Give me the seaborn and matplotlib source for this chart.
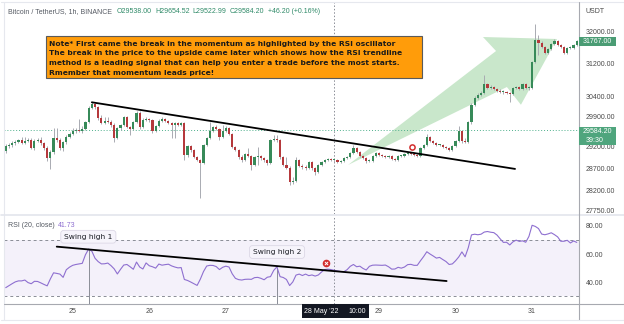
import numpy as np
import pandas as pd
import matplotlib
matplotlib.use("Agg")
import matplotlib.pyplot as plt
import matplotlib.ticker as mticker
import matplotlib.transforms as mtransforms
from matplotlib.patches import Polygon, Rectangle
from matplotlib.lines import Line2D
import seaborn as sns

# ------------------------------------------------------------------ data
start_time = "2022-05-24 03:00"
first_open = 29090
close = [29210, 29230, 29280, 29300, 29350, 29280, 29330, 29350, 29160, 29330,
         29350, 29280, 29160, 28930, 29070, 29400, 29350, 29160, 29300, 29420,
         29490, 29560, 29590, 29560, 29610, 29780, 30110, 30210, 30140, 29870,
         29750, 29800, 29780, 29710, 29400, 29630, 29710, 29900, 29660, 29610,
         29780, 29990, 29660, 29830, 29850, 29830, 29560, 29680, 29800, 29850,
         29800, 29750, 29710, 29750, 29710, 29750, 29000, 29210, 29120, 28950,
         28890, 28820, 29230, 29400, 29560, 29660, 29610, 29420, 29560, 29630,
         29490, 29190, 29120, 28950, 28890, 29020, 28980, 28770, 28950, 28980,
         28930, 28890, 28820, 29350, 29380, 29350, 28950, 28770, 28700, 28380,
         28400, 28890, 28750, 28720, 28700, 28840, 28700, 28610, 28770, 28840,
         28890, 28910, 28890, 28890, 28840, 28860, 28930, 28950, 29050, 29160,
         29070, 28980, 28930, 28860, 28860, 28980, 29050, 29000, 28980, 28950,
         28980, 28910, 28890, 28980, 28980, 29020, 29050, 29020, 29000, 28980,
         29160, 29230, 29420, 29330, 29280, 29230, 29230, 29190, 29160, 29120,
         29210, 29330, 29560, 29330, 29300, 29780, 30190, 30350, 30430, 30480,
         30700, 30600, 30620, 30570, 30520, 30500, 30500, 30480, 30450, 30600,
         30620, 30570, 30700, 30600, 30600, 31240, 31800, 31720, 31620, 31470,
         31570, 31690, 31770, 31670, 31620, 31470, 31590, 31590, 31670, 31767]
high = [29260, 29280, 29330, 29350, 29380, 29420, 29420, 29400, 29400, 29380,
        29400, 29420, 29300, 29210, 29120, 29630, 29630, 29400, 29330, 29470,
        29540, 29630, 29630, 29850, 29680, 29800, 30160, 30260, 30230, 30160,
        29940, 29900, 29900, 29830, 29750, 29660, 29730, 29920, 29920, 29680,
        29800, 30040, 30040, 29870, 29900, 29870, 29850, 29710, 29850, 29900,
        29870, 29830, 29780, 29780, 29780, 29780, 29780, 29230, 29230, 29140,
        28980, 28910, 29260, 29420, 29780, 29680, 29710, 29630, 29710, 29680,
        29660, 29520, 29210, 29140, 29000, 29050, 29160, 29000, 28980, 29190,
        29000, 28950, 28910, 29380, 29470, 29470, 29380, 28980, 28950, 28750,
        28500, 28950, 28910, 28790, 28770, 28860, 28860, 28720, 28790, 28860,
        28910, 28930, 28930, 28930, 28910, 28890, 28950, 28980, 29070, 29230,
        29190, 29090, 29000, 28950, 28910, 29000, 29070, 29070, 29020, 29000,
        29000, 29000, 28930, 29000, 29000, 29050, 29070, 29070, 29050, 29020,
        29190, 29260, 29490, 29450, 29350, 29300, 29260, 29260, 29210, 29190,
        29230, 29350, 29680, 29590, 29400, 29800, 30230, 30400, 30480, 30520,
        30920, 30720, 30670, 30650, 30600, 30570, 30550, 30520, 30500, 30620,
        30650, 30650, 30720, 30720, 30650, 31270, 32200, 31920, 31770, 31640,
        31590, 31720, 31820, 31800, 31690, 31640, 31620, 31640, 31690, 31790]
low = [29050, 29160, 29190, 29230, 29280, 29260, 29260, 29300, 29140, 29120,
       29300, 29230, 29120, 28860, 28680, 29020, 29300, 29120, 29090, 29260,
       29400, 29470, 29520, 29540, 29520, 29590, 29750, 30090, 30090, 29830,
       29730, 29730, 29750, 29660, 29300, 29380, 29590, 29680, 29630, 29470,
       29590, 29750, 29610, 29630, 29800, 29780, 29520, 29540, 29660, 29780,
       29780, 29730, 29400, 29400, 29680, 29680, 28890, 28950, 29070, 28930,
       28860, 28020, 28790, 29210, 29380, 29540, 29590, 29350, 29400, 29540,
       29470, 29160, 29090, 28910, 28840, 28860, 28950, 28660, 28750, 28770,
       28890, 28840, 28770, 28790, 29330, 29300, 28910, 28750, 28680, 28310,
       28340, 28380, 28720, 28680, 28660, 28680, 28660, 28540, 28590, 28750,
       28820, 28860, 28860, 28840, 28820, 28820, 28840, 28910, 28930, 29020,
       29050, 28950, 28910, 28820, 28840, 28840, 28950, 28980, 28950, 28930,
       28930, 28890, 28860, 28860, 28950, 28950, 29000, 29000, 28980, 28950,
       28950, 29140, 29210, 29300, 29260, 29210, 29210, 29160, 29140, 29090,
       29090, 29190, 29300, 29280, 29280, 29280, 29730, 30160, 30330, 30400,
       30450, 30570, 30570, 30550, 30500, 30480, 30450, 30450, 30260, 30430,
       30570, 30550, 30550, 30570, 30550, 30570, 31220, 31420, 31590, 31440,
       31440, 31540, 31670, 31640, 31590, 31440, 31440, 31570, 31570, 31640]
rsi = [36.2, 37.6, 39.0, 40.3, 41.0, 41.0, 41.6, 39.8, 39.0, 40.7,
       40.6, 39.6, 38.5, 37.5, 42.4, 46.7, 46.3, 45.8, 43.5, 48.9,
       50.7, 52.0, 52.6, 53.0, 53.4, 59.5, 63.5, 62.0, 57.0, 54.6,
       53.0, 53.1, 53.6, 51.8, 49.5, 45.9, 49.2, 52.2, 52.6, 51.0,
       49.2, 54.3, 50.8, 49.4, 53.7, 51.7, 51.0, 50.0, 52.9, 52.1,
       52.5, 52.8, 51.6, 50.8, 50.2, 50.4, 42.0, 41.3, 40.2, 39.0,
       37.8, 42.2, 47.6, 51.5, 52.0, 51.9, 51.1, 49.0, 50.6, 51.4,
       50.8, 46.0, 42.8, 41.9, 41.6, 42.1, 42.2, 42.1, 43.3, 43.5,
       42.8, 41.8, 43.6, 44.0, 48.4, 50.9, 44.0, 43.4, 42.0, 37.7,
       40.3, 45.1, 45.8, 44.8, 45.8, 44.7, 45.2, 44.4, 45.2, 47.3,
       49.0, 49.3, 49.0, 48.5, 48.0, 47.6, 47.5, 48.9, 51.3, 52.6,
       51.0, 51.4, 49.8, 48.7, 51.3, 52.1, 52.2, 52.1, 52.0, 52.2,
       51.0, 49.3, 49.4, 50.6, 50.0, 50.8, 52.5, 52.7, 52.0, 52.0,
       55.2, 58.2, 61.6, 60.0, 58.6, 57.1, 57.6, 56.1, 54.7, 52.6,
       53.0, 55.2, 57.9, 61.5, 58.0, 64.5, 73.5, 74.0, 73.6, 74.0,
       75.5, 75.9, 75.4, 75.1, 73.4, 70.7, 68.2, 68.3, 66.4, 68.6,
       69.8, 68.9, 69.3, 68.3, 72.4, 80.3, 79.5, 78.0, 74.1, 73.6,
       74.2, 75.0, 73.7, 72.1, 69.0, 69.0, 69.7, 67.8, 69.2, 68.2]

price_ticks = [32000, 31200, 30400, 29900, 29200, 28700, 28200, 27750]
rsi_ticks = [80, 60, 40]
rsi_upper, rsi_lower = 70, 30
price_trend_x = [27, 159.65]
price_trend_y = [30250, 28680]
rsi_trend_x = [16.0, 138.2]
rsi_trend_y = [65.2, 40.9]
swing_idx = [26, 85]
swing_labels = ["Swing high 1", "Swing high 2"]
swing_label_pos = [(25.9, 72.2), (85.05, 61.4)]
arrow_x = [107.3, 153.7, 149.6, 172.8, 161.5, 157.1]
arrow_y = [28770, 31517, 31872, 31821, 30190, 30622]
break_price_pt = (127.3, 29180)
break_rsi_pt = (100.4, 53.4)
cursor_idx = 103
last_price = 31767.00
ref_price = 29584.20
header_title = "Bitcoin / TetherUS, 1h, BINANCE"
header_vals = ["O29538.00", "H29654.52", "L29522.99", "C29584.20", "+46.20 (+0.16%)"]
note_lines = ["Note* First came the break in the momentum as highlighted by the RSI oscillator",
              "The break in the price to the upside came later which shows how the RSI trendline",
              "method is a leading signal that can help you enter a trade before the most starts.",
              "Rmember that momentum leads price!"]

# ------------------------------------------------------------------ style
sns.set_style("white")
plt.rcParams['font.family'] = ['Liberation Sans', 'DejaVu Sans']

W, H = 624, 324
fig = plt.figure(figsize=(W / 100, H / 100), dpi=100)
fig.patch.set_facecolor("white")

def fx(x):
    return x / W

def fy(y):
    return 1 - y / H

X0, X1 = 3.5, 579
ax = fig.add_axes([fx(X0), fy(214), (X1 - X0) / W, 212 / H])
axr = fig.add_axes([fx(X0), fy(304), (X1 - X0) / W, (304 - 215.7) / H])

close_a = np.array(close, float)
high_a = np.array(high, float)
low_a = np.array(low, float)
n = len(close_a)
idx = np.arange(n)
times = pd.date_range(start_time, periods=n, freq="h")
opens = np.concatenate([[first_open], close_a[:-1]])
up = close_a >= opens
body_lo = np.minimum(opens, close_a)
body_hi = np.maximum(opens, close_a)
body_h = np.maximum(body_hi - body_lo, 18)
high_a = np.maximum(high_a, body_hi)
low_a = np.minimum(low_a, body_lo)

GREEN = "#378a59"
RED = "#b5393c"
xlim = (-0.69, 179.7)

# ------------------------------------------------------------------ price pane
ax.set_yscale("log")
ax.set_xlim(*xlim)
ax.set_ylim(27664, 32777)

arrow = Polygon(np.column_stack([arrow_x, arrow_y]), closed=True,
                facecolor="#c9e7cb", edgecolor="none", zorder=1)
ax.add_patch(arrow)

ax.axhline(ref_price, color="#4fb08c", lw=0.7, ls=(0, (1, 2)), zorder=1.5)
ax.axvline(cursor_idx, color="#8a8d96", lw=0.7, ls=(0, (1.5, 2)), zorder=1.5)

ax.vlines(idx, low_a, high_a, color="#a9abb2", lw=0.7, zorder=2)
ax.bar(idx, body_h, bottom=body_lo, width=0.68,
       color=np.where(up, GREEN, RED), linewidth=0, zorder=3)

ax.plot(price_trend_x, price_trend_y, color="black", lw=1.3, zorder=4,
        solid_capstyle="round")
ax.scatter([break_price_pt[0]], [break_price_pt[1]], s=14, facecolor="white",
           edgecolor="#d32f2f", linewidths=1.1, zorder=5)

ax.yaxis.tick_right()
ax.yaxis.set_major_locator(mticker.FixedLocator(price_ticks))
ax.yaxis.set_minor_locator(mticker.NullLocator())
ax.yaxis.set_major_formatter(mticker.FuncFormatter(lambda v, p: f"{v:.2f}"))
ax.tick_params(axis="y", length=0, pad=5, labelsize=5, labelcolor="#4a4a4a")
ax.set_xticks([])
for s in ax.spines.values():
    s.set_visible(False)

# ------------------------------------------------------------------ RSI pane
axr.set_xlim(*xlim)
axr.set_ylim(24.67, 87.07)
axr.axhspan(rsi_lower, rsi_upper, color="#7e57c2", alpha=0.08, lw=0, zorder=0)
for lv in (rsi_upper, rsi_lower):
    axr.axhline(lv, color="#8a8d96", lw=0.7, ls=(0, (3, 3)), zorder=1)
axr.axvline(cursor_idx, color="#8a8d96", lw=0.7, ls=(0, (1.5, 2)), zorder=1.5)

rsi_df = pd.DataFrame({"idx": idx, "rsi": rsi})
sns.lineplot(data=rsi_df, x="idx", y="rsi", ax=axr, color="#8e6fd0", lw=0.8,
             zorder=3)

rsi_a = np.array(rsi)
axr.vlines(swing_idx, 24.67, rsi_a[swing_idx], color="#8a8d96", lw=0.7, zorder=2)
axr.plot(rsi_trend_x, rsi_trend_y, color="black", lw=1.3, zorder=4,
         solid_capstyle="round")
for lab, (px, py) in zip(swing_labels, swing_label_pos):
    axr.text(px, py, lab, ha="center", va="center", fontsize=5.4,
             family=["DejaVu Sans"], color="#1c1f26", zorder=6,
             bbox=dict(boxstyle="round,pad=0.45,rounding_size=0.4",
                       fc="#f6f4fb", ec="#dcd8e6", lw=0.6))
axr.scatter([break_rsi_pt[0]], [break_rsi_pt[1]], s=20, color="#d32f2f",
            edgecolor="#d32f2f", zorder=6)
axr.scatter([break_rsi_pt[0]], [break_rsi_pt[1]], s=5, marker="x",
            color="white", linewidths=0.7, zorder=7)

axr.yaxis.tick_right()
axr.set_yticks(rsi_ticks)
axr.set_yticklabels([f"{v:.2f}" for v in rsi_ticks])
axr.tick_params(axis="y", length=0, pad=5, labelsize=5, labelcolor="#4a4a4a")
axr.set_xticks([])
axr.set_xlabel("")
axr.set_ylabel("")
for s in axr.spines.values():
    s.set_visible(False)

# day labels on the time axis (the 28th is hidden under the cursor label)
day_pos = [i for i, t in enumerate(times) if t.hour == 0 and t.day != 28]
trans = mtransforms.blended_transform_factory(axr.transData, axr.transAxes)
for i in day_pos:
    axr.text(i, -0.082, str(times[i].day), transform=trans, ha="center",
             va="center", fontsize=5, color="#4a4a4a", clip_on=False, zorder=1)

# ------------------------------------------------------------------ frame lines
def fline(x0, y0, x1, y1, color, lw=0.8, z=2):
    fig.add_artist(Line2D([fx(x0), fx(x1)], [fy(y0), fy(y1)], color=color,
                          lw=lw, zorder=z, transform=fig.transFigure))

fline(0.5, 1.5, 623.5, 1.5, "#e6e8ee")
fline(3.5, 1.5, 3.5, 320, "#e6e8ee")
fline(0.5, 215, 623.5, 215, "#e3e5ec", lw=1.2)
fline(3.5, 304, 623.5, 304, "#a7a9b0", lw=0.8)
fline(579, 1.5, 579, 320, "#a7a9b0", lw=0.8)
fline(0.5, 320, 623.5, 320, "#e6e8ee")
fline(623.5, 1.5, 623.5, 320, "#e6e8ee")

# ------------------------------------------------------------------ texts
fig.text(fx(8.3), fy(13.3), header_title, fontsize=5, color="#555a63",
         va="baseline")
for xp, s in zip([116.7, 155, 192.7, 229.3, 267.7], header_vals):
    fig.text(fx(xp), fy(13.3), s, fontsize=5, color="#2f8a68", va="baseline")
fig.text(fx(585), fy(13.3), "USDT", fontsize=5, color="#4a4a4a", va="baseline")

fig.text(fx(8.3), fy(226.7), "RSI (20, close)", fontsize=5, color="#555a63",
         va="baseline")
fig.text(fx(58.3), fy(226.7), "41.73", fontsize=5, color="#8e6fd0",
         va="baseline")

# note box
fig.add_artist(Rectangle((fx(46), fy(78)), (421.7 - 46) / W, (78 - 36) / H,
                         transform=fig.transFigure, fc="#ff9c0a", ec="#5a5a5a",
                         lw=0.8, zorder=4))
for yb, line in zip([45.7, 55.4, 65.1, 74.6], note_lines):
    fig.text(fx(49), fy(yb), line, fontsize=5.4, family=["DejaVu Sans"],
             fontweight="bold", color="#1a1a1a", va="baseline", zorder=5)

# right-axis price labels
fig.add_artist(Rectangle((fx(579), fy(45.5)), 37 / W, 8.5 / H,
                         transform=fig.transFigure, fc="#4a9c74", ec="none",
                         zorder=5))
fig.text(fx(597.5), fy(41.3), f"{last_price:.2f}", fontsize=5, color="white",
         ha="center", va="center", zorder=6)
fig.add_artist(Rectangle((fx(579), fy(145)), 37 / W, 18.3 / H,
                         transform=fig.transFigure, fc="#4fa57d", ec="none",
                         zorder=5))
fig.text(fx(597.5), fy(131.3), f"{ref_price:.2f}", fontsize=5, color="white",
         ha="center", va="center", zorder=6)
fig.text(fx(586), fy(140.3), "39:30", fontsize=5, color="white",
         ha="left", va="center", zorder=6)

# cursor date label
fig.add_artist(Rectangle((fx(301.7), fy(318.3)), (369.3 - 301.7) / W, 14 / H,
                         transform=fig.transFigure, fc="#131722", ec="none",
                         zorder=5))
fig.text(fx(304), fy(311.5), "28 May '22", fontsize=5, color="white",
         ha="left", va="center", zorder=6)
fig.text(fx(348), fy(311.5), "10:00", fontsize=5, color="white",
         ha="left", va="center", zorder=6)

fig.savefig("out.png", dpi=100, facecolor="white")
